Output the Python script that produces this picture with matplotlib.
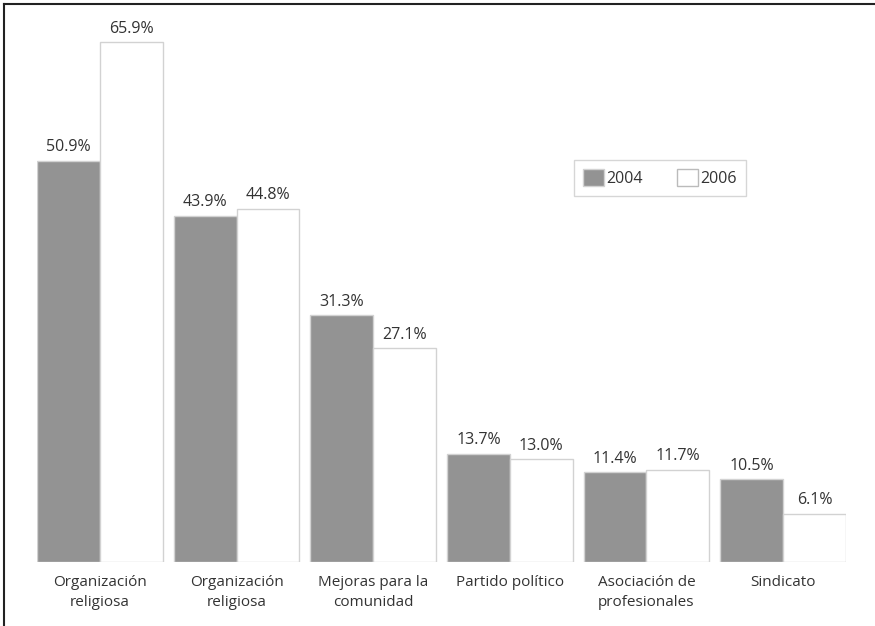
import matplotlib.pyplot as plt
import numpy as np
from matplotlib.patches import Patch
from matplotlib.lines import Line2D

categories = ["Organización\nreligiosa", "Organización\nreligiosa", "Mejoras para la\ncomunidad",
              "Partido político", "Asociación de\nprofesionales", "Sindicato"]
vals_2004 = [50.9, 43.9, 31.3, 13.7, 11.4, 10.5]
vals_2006 = [65.9, 44.8, 27.1, 13.0, 11.7, 6.1]
years = ["2004", "2006"]

plt.rcParams['font.family'] = ['Open Sans', 'DejaVu Sans']
txt = '#333333'
edge = '#d2d2d2'

fig = plt.figure(figsize=(8.75, 6.26), dpi=100)
W, H = 875, 626
ax = fig.add_axes([37 / W, (H - 562) / H, (846 - 37) / W, (562 - 10) / H])

x = np.arange(len(categories))
w = 0.46
b1 = ax.bar(x - w / 2, vals_2004, w, color='#939393', edgecolor=edge, linewidth=1)
b2 = ax.bar(x + w / 2, vals_2006, w, color='white', edgecolor=edge, linewidth=1)

for bars, vals in [(b1, vals_2004), (b2, vals_2006)]:
    for r, v in zip(bars, vals):
        ax.text(r.get_x() + r.get_width() / 2, v + 0.7, f"{v:.1f}%",
                ha='center', va='bottom', fontsize=11.5, color=txt)

ax.set_xlim(-w, len(categories) - 1 + w)
ax.set_ylim(0, 70)
ax.set_yticks([])
ax.set_xticks(x)
ax.set_xticklabels(categories, fontsize=11, color=txt, linespacing=1.5)
ax.tick_params(axis='x', length=0, pad=9)
for s in ax.spines.values():
    s.set_visible(False)

handles = [Patch(facecolor='#939393', edgecolor=edge), Patch(facecolor='white', edgecolor='#bbbbbb')]
leg = ax.legend(handles, years, loc='upper left', bbox_to_anchor=((574 - 37) / (846 - 37), (562 - 160) / 552),
                borderaxespad=0, ncol=2, frameon=True, fancybox=False, fontsize=11.5,
                handlelength=1.3, handleheight=1.3, handletextpad=0.2, columnspacing=2.1,
                borderpad=0.55, labelcolor=txt)
leg.get_frame().set_edgecolor('#cccccc')
leg.get_frame().set_linewidth(1)

# outer frame lines (top and left)
fig.add_artist(Line2D([4 / W, 1], [1 - 4 / H, 1 - 4 / H], color='#222222', linewidth=1.5, transform=fig.transFigure))
fig.add_artist(Line2D([4 / W, 4 / W], [0, 1 - 4 / H], color='#222222', linewidth=1.5, transform=fig.transFigure))

fig.savefig("out.png", dpi=100)
